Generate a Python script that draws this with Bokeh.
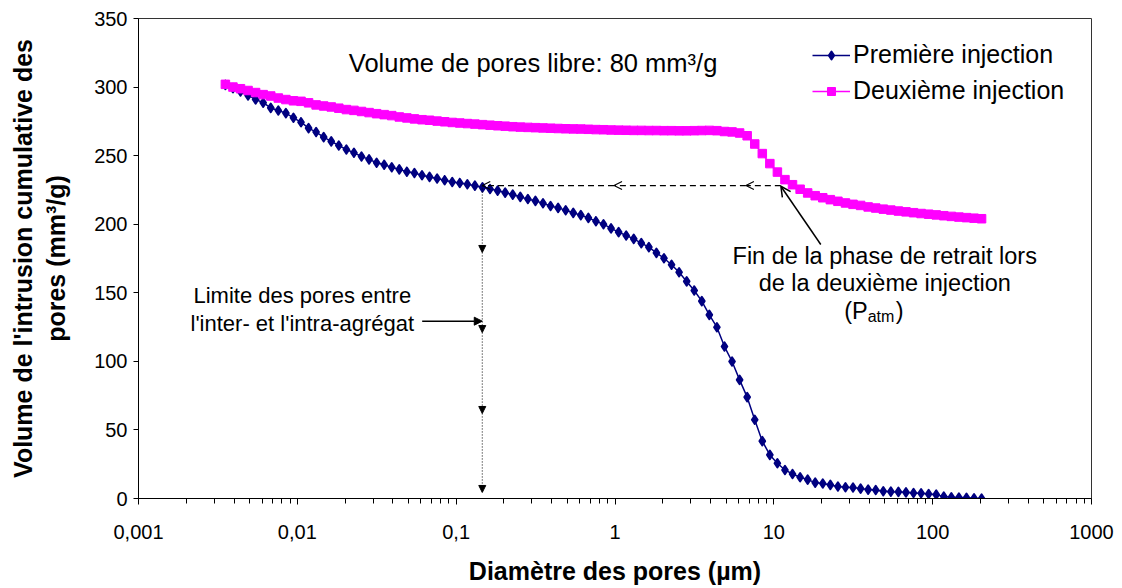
from bokeh.plotting import figure
from bokeh.models import (FixedTicker, CustomJSTickFormatter, Arrow, OpenHead,
                          NormalHead, Legend, LegendItem, Range1d, Label)
from bokeh.embed import file_html
from bokeh.resources import INLINE

# ---------------- data ----------------
diam_um = [0.003524, 0.003932, 0.004387, 0.004895, 0.005462, 0.006095, 0.006801, 0.007591, 0.008470, 0.009451,
           0.01055, 0.01177, 0.01313, 0.01465, 0.01635, 0.01824, 0.02036, 0.02272, 0.02535, 0.02829,
           0.03156, 0.03522, 0.03930, 0.04385, 0.04893, 0.05460, 0.06093, 0.06799, 0.07587, 0.08466,
           0.09447, 0.1054, 0.1176, 0.1312, 0.1464, 0.1634, 0.1824, 0.2035, 0.2271, 0.2534,
           0.2828, 0.3155, 0.3521, 0.3929, 0.4384, 0.4892, 0.5459, 0.6091, 0.6797, 0.7585,
           0.8464, 0.9443, 1.054, 1.176, 1.312, 1.464, 1.634, 1.823, 2.034, 2.270,
           2.533, 2.827, 3.154, 3.520, 3.926, 4.381, 4.890, 5.457, 6.089, 6.794,
           7.582, 8.460, 9.439, 10.53, 11.75, 13.11, 14.64, 16.33, 18.22, 20.33,
           22.69, 25.32, 28.25, 31.52, 35.18, 39.25, 43.80, 48.88, 54.54, 60.86,
           67.91, 75.78, 84.56, 94.34, 105.3, 117.5, 131.1, 146.3, 163.3, 182.2,
           203.2]

premiere_injection = [301.6, 299.2, 296.8, 293.9, 291.0, 288.6, 284.8, 282.9, 281.0, 277.6,
                      274.4, 270.1, 267.2, 263.5, 260.4, 257.4, 254.5, 252.1, 249.4, 247.3,
                      244.8, 243.4, 241.5, 240.0, 238.3, 237.3, 235.7, 234.5, 233.3, 232.1,
                      230.8, 230.1, 229.1, 228.1, 226.9, 225.7, 224.5, 223.0, 221.6, 219.9,
                      218.4, 217.0, 215.3, 213.3, 211.9, 210.2, 208.3, 206.6, 204.6, 202.2,
                      200.0, 197.0, 194.2, 191.8, 189.3, 186.2, 183.3, 179.1, 175.2, 170.4,
                      165.0, 158.3, 151.7, 143.9, 133.9, 124.9, 110.8, 99.9, 86.5, 73.9,
                      57.4, 41.8, 31.8, 25.7, 20.8, 17.9, 15.5, 13.8, 11.6, 10.9,
                      9.9, 8.7, 8.2, 8.0, 7.2, 6.5, 6.2, 5.3, 5.0, 4.8,
                      4.5, 4.0, 3.8, 3.3, 2.8, 1.4, 0.9, 0.7, 0.5, 0.2,
                      0.0]

deuxieme_injection = [302.0, 300.0, 298.8, 297.5, 296.0, 294.5, 293.5, 292.0, 290.9, 290.0,
                      289.6, 288.5, 287.0, 286.2, 285.5, 284.6, 283.6, 283.0, 282.2, 281.4,
                      280.6, 279.9, 279.2, 278.2, 277.5, 276.8, 276.2, 275.8, 275.2, 274.7,
                      274.2, 273.8, 273.4, 273.0, 272.6, 272.2, 271.8, 271.5, 271.1, 270.8,
                      270.6, 270.4, 270.2, 270.0, 269.8, 269.6, 269.5, 269.4, 269.2, 269.0,
                      268.9, 268.7, 268.6, 268.5, 268.4, 268.4, 268.3, 268.3, 268.2, 268.2,
                      268.1, 268.1, 268.2, 268.3, 268.4, 268.2, 267.6, 267.3, 266.5, 264.5,
                      258.5, 251.5, 244.2, 238.0, 232.5, 228.8, 225.5, 222.8, 220.8, 219.3,
                      217.9, 216.7, 215.5, 214.5, 213.7, 212.6, 211.8, 211.0, 210.3, 209.6,
                      209.0, 208.4, 207.8, 207.3, 206.8, 206.2, 205.7, 205.2, 204.8, 204.4,
                      204.0]

series_names = ["Première injection", "Deuxième injection"]
x_tick_values = [0.001, 0.01, 0.1, 1, 10, 100, 1000]
x_tick_labels = ["0,001", "0,01", "0,1", "1", "10", "100", "1000"]
y_tick_values = [0, 50, 100, 150, 200, 250, 300, 350]

# ---------------- figure ----------------
FONT = "Liberation Sans"
p = figure(width=1114, height=588, x_axis_type="log",
           x_range=Range1d(0.001, 1000), y_range=Range1d(0, 350),
           output_backend="svg", toolbar_location=None,
           min_border_left=138, min_border_right=23, min_border_top=18, min_border_bottom=90)
p.background_fill_color = "white"
p.border_fill_color = "white"
p.outline_line_color = "#333333"
p.outline_line_width = 1
p.xgrid.visible = False
p.ygrid.visible = False

minor = [m * t for t in x_tick_values[:-1] for m in range(2, 10)]
p.xaxis.ticker = FixedTicker(ticks=x_tick_values, minor_ticks=minor)
p.xaxis.formatter = CustomJSTickFormatter(args=dict(labels=x_tick_labels), code="""
    const e = Math.round(Math.log10(tick));
    const i = e + 3;
    return (i >= 0 && i < labels.length) ? labels[i] : "";
""")
p.yaxis.ticker = FixedTicker(ticks=y_tick_values, minor_ticks=[])

for ax in (p.xaxis[0], p.yaxis[0]):
    ax.axis_line_color = "black"
    ax.axis_line_width = 1
    ax.major_tick_line_color = "black"
    ax.minor_tick_line_color = "black"
    ax.major_tick_in = 0
    ax.minor_tick_in = 0
    ax.major_label_text_font = FONT
    ax.major_label_text_font_size = "20px"
    ax.major_label_text_color = "black"
    ax.axis_label_text_font = FONT
    ax.axis_label_text_font_size = "25px"
    ax.axis_label_text_font_style = "bold"
    ax.axis_label_text_color = "black"

p.xaxis.major_tick_out = 6
p.xaxis.minor_tick_out = 5
p.xaxis.major_label_standoff = 20
p.xaxis.axis_label = "Diamètre des pores (µm)"
p.xaxis.axis_label_standoff = 15

p.yaxis.major_tick_out = 5
p.yaxis.minor_tick_out = 0
p.yaxis.major_label_standoff = 6
p.yaxis.axis_label = "Volume de l'intrusion cumulative des\npores (mm³/g)"
p.yaxis.axis_label_standoff = 21

# ---------------- series ----------------
l1 = p.line(diam_um, premiere_injection, line_color="#000080", line_width=1.5)
s1 = p.scatter(diam_um, premiere_injection, marker="diamond", size=8.5, line_width=2,
               line_join="round", fill_color="#000080", line_color="#000080")
l2 = p.line(diam_um, deuxieme_injection, line_color="#FF00FF", line_width=1.5)
s2 = p.scatter(diam_um, deuxieme_injection, marker="square", size=8.5,
               fill_color="#FF00FF", line_color="#FF00FF")

legend = Legend(items=[LegendItem(label=series_names[0], renderers=[l1, s1]),
                       LegendItem(label=series_names[1], renderers=[l2, s2])],
                location="top_right", border_line_color=None, background_fill_alpha=0,
                label_text_font=FONT, label_text_font_size="25px", label_text_color="black",
                glyph_width=38, glyph_height=20, label_standoff=3, spacing=7,
                label_width=222, padding=6, margin=16,
                title=" ", title_text_font_size="1px", title_standoff=5)
p.add_layout(legend)

# ---------------- annotations ----------------
Y_H = 228.2      # level of the horizontal dashed arrows
X_LIM = 0.146    # inter/intra-aggregate limit
X_END = 11.07    # end of the retraction phase

# horizontal dashed arrows (right to left)
for xs, xe in [(X_END, 6.67), (6.67, 0.986), (0.986, X_LIM)]:
    p.add_layout(Arrow(x_start=xs, y_start=Y_H, x_end=xe, y_end=Y_H,
                       line_color="black", line_width=1.2, line_dash="6 4",
                       end=OpenHead(size=8, line_color="black", line_width=1.2)))

# vertical dotted arrows (top to bottom)
for ys, ye in [(Y_H, 179.4), (179.4, 121.0), (121.0, 62.0), (62.0, 4.4)]:
    p.add_layout(Arrow(x_start=X_LIM, y_start=ys, x_end=X_LIM, y_end=ye,
                       line_color="black", line_width=1, line_dash="1 2",
                       end=NormalHead(size=7, fill_color="black", line_color="black", line_width=1)))

# arrow towards the limit
p.add_layout(Arrow(x_start=0.0611, y_start=129.3, x_end=X_LIM, y_end=129.3,
                   line_color="black", line_width=1.5,
                   end=NormalHead(size=8, fill_color="black", line_color="black", line_width=1)))

# arrow towards end of retraction phase
p.add_layout(Arrow(x_start=19.75, y_start=185.2, x_end=X_END, y_end=Y_H - 0.5,
                   line_color="black", line_width=1.5,
                   end=OpenHead(size=10, line_color="black", line_width=1.5)))

def add_text(x, y, txt, size, align="center"):
    p.add_layout(Label(x=x, y=y, text=txt, text_font=FONT, text_font_size=size,
                       text_color="black", text_align=align, text_baseline="middle"))

add_text(0.305, 317.9, "Volume de pores libre: 80 mm³/g", "25.5px")
add_text(0.01075, 148.0, "Limite des pores entre", "22px")
add_text(0.01075, 127.6, "l'inter- et l'intra-agrégat", "22px")
add_text(49.9, 176.5, "Fin de la phase de retrait lors", "23.5px")
add_text(49.9, 157.5, "de la deuxième injection", "23.5px")
add_text(39.0, 137.0, "(P", "23.5px", align="right")
add_text(39.0, 132.4, "atm", "16px", align="left")
add_text(58.5, 137.0, ")", "23.5px", align="left")

open("out.html", "w").write(file_html(p, INLINE))
